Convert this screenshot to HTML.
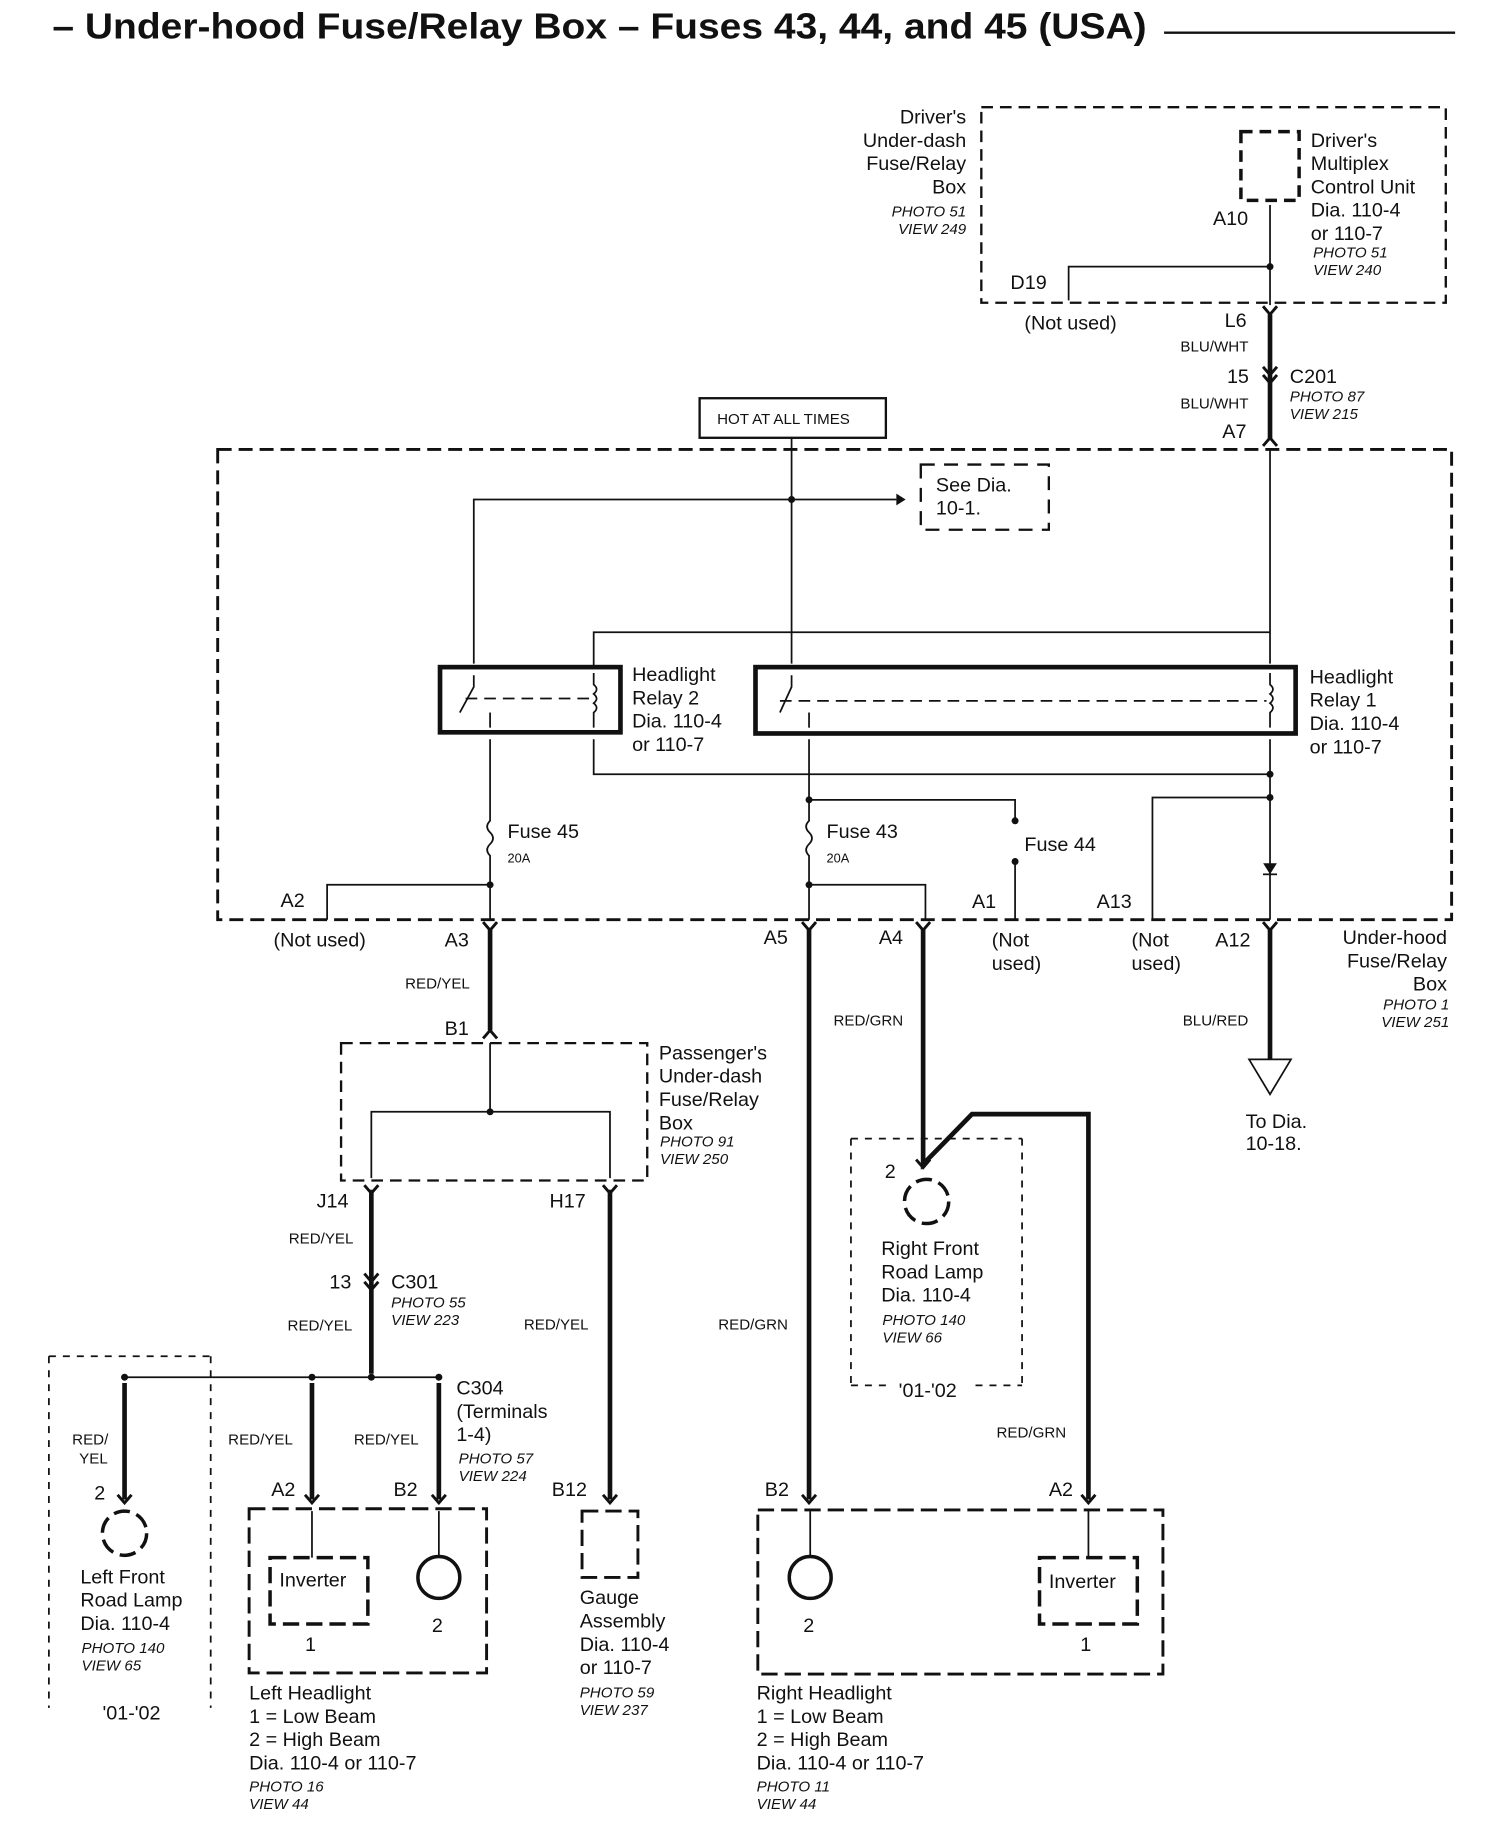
<!DOCTYPE html>
<html><head><meta charset="utf-8"><style>
html,body{margin:0;padding:0;background:#fff;width:1504px;height:1822px;overflow:hidden}
svg{display:block}
text{font-family:"Liberation Sans",sans-serif;fill:#111}
.l{font-size:17px}
.s{font-size:13px;font-style:italic}
.w{font-size:13px}
</style></head><body>
<svg width="1504" height="1822" viewBox="0 0 1292 1565" xmlns="http://www.w3.org/2000/svg">
<g stroke="#111" fill="none">
<line x1="1000" y1="28" x2="1250" y2="28" stroke-width="2"/>
<rect x="843" y="92" width="399" height="168" stroke-width="2" stroke-dasharray="10,6"/>
<rect x="1066" y="113" width="50" height="59" stroke-width="3" stroke-dasharray="10,6"/>
<line x1="1091" y1="176" x2="1091" y2="262" stroke-width="1.5"/>
<polyline points="1091,229 918,229 918,258" stroke-width="1.5"/>
<line x1="1091" y1="270" x2="1091" y2="378" stroke-width="4"/>
<rect x="601" y="342" width="160" height="34" stroke-width="2"/>
<line x1="680" y1="376" x2="680" y2="570" stroke-width="1.5"/>
<rect x="187" y="386" width="1060" height="404" stroke-width="2.5" stroke-dasharray="12,6"/>
<polyline points="407,570 407,429 770,429" stroke-width="1.5"/>
<rect x="791" y="399" width="110" height="56" stroke-width="2" stroke-dasharray="12,8"/>
<line x1="1091" y1="386" x2="1091" y2="570" stroke-width="1.5"/>
<polyline points="510,573 510,543 1091,543" stroke-width="1.5"/>
<rect x="378" y="573" width="155" height="56" stroke-width="4"/>
<rect x="649" y="573" width="464" height="57" stroke-width="4"/>
<line x1="400" y1="600" x2="508" y2="600" stroke-width="1.5" stroke-dasharray="10,6"/>
<line x1="670" y1="602" x2="1088" y2="602" stroke-width="1.5" stroke-dasharray="10,6"/>
<polyline points="407,580 407,590 395,612" stroke-width="1.5"/>
<polyline points="680,580 680,590 670,612" stroke-width="1.5"/>
<path d="M510,578 L510,588 q5,4 0,8 q5,4 0,8 q5,4 0,8 L510,625" stroke-width="1.5"/>
<path d="M1091,578 L1091,588 q5,4 0,8 q5,4 0,8 q5,4 0,8 L1091,625" stroke-width="1.5"/>
<line x1="421" y1="612" x2="421" y2="625" stroke-width="1.5"/>
<line x1="695" y1="612" x2="695" y2="625" stroke-width="1.5"/>
<polyline points="510,635 510,665 1091,665" stroke-width="1.5"/>
<line x1="1091" y1="635" x2="1091" y2="790" stroke-width="1.5"/>
<path d="M421,635 L421,705 q-5,5 0,10 q5,5 0,10 q-5,5 0,10 L421,790" stroke-width="1.5"/>
<path d="M695,635 L695,705 q-5,5 0,10 q5,5 0,10 q-5,5 0,10 L695,790" stroke-width="1.5"/>
<polyline points="695,687 872,687 872,705" stroke-width="1.5"/>
<line x1="872" y1="740" x2="872" y2="790" stroke-width="1.5"/>
<polyline points="1091,685 990,685 990,790" stroke-width="1.5"/>
<polyline points="421,760 281,760 281,790" stroke-width="1.5"/>
<polyline points="695,760 795,760 795,790" stroke-width="1.5"/>
<polygon points="1086,742 1096,742 1091,750" fill="#111"/>
<line x1="1085" y1="751" x2="1097" y2="751" stroke-width="1.5"/>
<line x1="421" y1="798" x2="421" y2="885" stroke-width="4"/>
<line x1="695" y1="798" x2="695" y2="1288" stroke-width="4"/>
<polyline points="793,798 793,1000 835,957 935,957 935,1288" stroke-width="4"/>
<line x1="1091" y1="798" x2="1091" y2="910" stroke-width="4"/>
<polygon points="1073,910 1109,910 1091,940" stroke-width="1.5"/>
<!-- connector chevrons -->
<g stroke-width="2.5">
<path d="M415,792 L421,799 L427,792"/><path d="M689,792 L695,799 L701,792"/>
<path d="M787,792 L793,799 L799,792"/><path d="M1085,792 L1091,799 L1097,792"/>
<path d="M1085,263 L1091,270 L1097,263"/>
<path d="M1085,315 L1091,322 L1097,315"/><path d="M1085,322 L1091,329 L1097,322"/>
<path d="M1085,383 L1091,376 L1097,383"/>
<path d="M415,892 L421,885 L427,892"/>
<path d="M313,1018 L319,1025 L325,1018"/><path d="M518,1018 L524,1025 L530,1018"/>
<path d="M313,1094 L319,1101 L325,1094"/><path d="M313,1101 L319,1108 L325,1101"/>
<path d="M101,1284 L107,1291 L113,1284"/><path d="M262,1284 L268,1291 L274,1284"/>
<path d="M371,1284 L377,1291 L383,1284"/><path d="M518,1284 L524,1291 L530,1284"/>
<path d="M689,1284 L695,1291 L701,1284"/><path d="M929,1284 L935,1291 L941,1284"/>
<path d="M787,996 L793,1003 L799,996"/>
</g>
<rect x="293" y="896" width="263" height="118" stroke-width="2" stroke-dasharray="10,6"/>
<line x1="421" y1="896" x2="421" y2="955" stroke-width="1.5"/>
<polyline points="319,1012 319,955 524,955 524,1012" stroke-width="1.5"/>
<line x1="319" y1="1022" x2="319" y2="1180" stroke-width="4"/>
<line x1="524" y1="1022" x2="524" y2="1288" stroke-width="4"/>
<line x1="107" y1="1183" x2="377" y2="1183" stroke-width="1.5"/>
<line x1="107" y1="1188" x2="107" y2="1288" stroke-width="4"/>
<line x1="268" y1="1188" x2="268" y2="1288" stroke-width="4"/>
<line x1="377" y1="1188" x2="377" y2="1288" stroke-width="4"/>
<polyline points="42,1165 181,1165" stroke-width="1.5" stroke-dasharray="6,6"/>
<line x1="42" y1="1165" x2="42" y2="1467" stroke-width="1.5" stroke-dasharray="6,6"/>
<line x1="181" y1="1165" x2="181" y2="1467" stroke-width="1.5" stroke-dasharray="6,6"/>
<circle cx="107" cy="1317" r="19" stroke-width="3" stroke-dasharray="14,6"/>
<rect x="214" y="1296" width="204" height="141" stroke-width="2.5" stroke-dasharray="14,6"/>
<rect x="232" y="1338" width="84" height="57" stroke-width="3" stroke-dasharray="14,6"/>
<line x1="268" y1="1298" x2="268" y2="1338" stroke-width="1.5"/>
<line x1="377" y1="1298" x2="377" y2="1337" stroke-width="1.5"/>
<circle cx="377" cy="1355" r="18" stroke-width="3"/>
<rect x="500" y="1298" width="48" height="57" stroke-width="2.5" stroke-dasharray="14,6"/>
<rect x="651" y="1297" width="348" height="141" stroke-width="2.5" stroke-dasharray="14,6"/>
<rect x="893" y="1338" width="84" height="57" stroke-width="3" stroke-dasharray="14,6"/>
<line x1="935" y1="1298" x2="935" y2="1338" stroke-width="1.5"/>
<line x1="696" y1="1298" x2="696" y2="1337" stroke-width="1.5"/>
<circle cx="696" cy="1355" r="18" stroke-width="3"/>
<line x1="731" y1="978" x2="731" y2="1190" stroke-width="1.5" stroke-dasharray="6,6"/>
<line x1="878" y1="978" x2="878" y2="1190" stroke-width="1.5" stroke-dasharray="6,6"/>
<line x1="731" y1="978" x2="878" y2="978" stroke-width="1.5" stroke-dasharray="6,6"/>
<line x1="731" y1="1190" x2="765" y2="1190" stroke-width="1.5" stroke-dasharray="6,6"/>
<line x1="838" y1="1190" x2="878" y2="1190" stroke-width="1.5" stroke-dasharray="6,6"/>
<circle cx="796" cy="1032" r="19" stroke-width="3" stroke-dasharray="14,6"/>
</g>
<g fill="#111">
<circle cx="680" cy="429" r="3"/><circle cx="1091" cy="229" r="3"/>
<circle cx="1091" cy="665" r="3"/><circle cx="695" cy="687" r="3"/><circle cx="1091" cy="685" r="3"/>
<circle cx="421" cy="760" r="3"/><circle cx="695" cy="760" r="3"/>
<circle cx="872" cy="705" r="3"/><circle cx="872" cy="740" r="3"/>
<circle cx="421" cy="955" r="3"/><circle cx="107" cy="1183" r="3"/><circle cx="268" cy="1183" r="3"/><circle cx="319" cy="1183" r="3"/><circle cx="377" cy="1183" r="3"/>
<polygon points="770,424 778,429 770,434"/>
</g>
<text x="45" y="33" font-size="31" font-weight="bold" textLength="940" lengthAdjust="spacingAndGlyphs">– Under-hood Fuse/Relay Box – Fuses 43, 44, and 45 (USA)</text>
<g class="l">
<text x="830" y="106" text-anchor="end">Driver's</text>
<text x="830" y="126" text-anchor="end">Under-dash</text>
<text x="830" y="146" text-anchor="end">Fuse/Relay</text>
<text x="830" y="166" text-anchor="end">Box</text>
<text x="1126" y="126">Driver's</text><text x="1126" y="146">Multiplex</text><text x="1126" y="166">Control Unit</text>
<text x="1126" y="186">Dia.  110-4</text><text x="1126" y="206">or 110-7</text>
<text x="1042" y="193">A10</text><text x="868" y="248">D19</text>
<text x="880" y="283">(Not used)</text><text x="1052" y="281">L6</text>
<text x="1054" y="329">15</text><text x="1108" y="329">C201</text><text x="1050" y="376">A7</text>
<text x="543" y="585">Headlight</text><text x="543" y="605">Relay 2</text><text x="543" y="625">Dia.  110-4</text><text x="543" y="645">or 110-7</text>
<text x="1125" y="587">Headlight</text><text x="1125" y="607">Relay 1</text><text x="1125" y="627">Dia.  110-4</text><text x="1125" y="647">or 110-7</text>
<text x="804" y="422">See  Dia.</text><text x="804" y="442">10-1.</text>
<text x="436" y="720">Fuse  45</text><text x="710" y="720">Fuse  43</text><text x="880" y="731">Fuse  44</text>
<text x="241" y="779">A2</text><text x="835" y="780">A1</text><text x="942" y="780">A13</text>
<text x="235" y="813">(Not used)</text><text x="382" y="813">A3</text><text x="656" y="811">A5</text><text x="755" y="811">A4</text>
<text x="852" y="813">(Not</text><text x="852" y="833">used)</text><text x="972" y="813">(Not</text><text x="972" y="833">used)</text>
<text x="1044" y="813">A12</text>
<text x="1243" y="811" text-anchor="end">Under-hood</text><text x="1243" y="831" text-anchor="end">Fuse/Relay</text><text x="1243" y="851" text-anchor="end">Box</text>
<text x="382" y="889">B1</text>
<text x="566" y="910">Passenger's</text><text x="566" y="930">Under-dash</text><text x="566" y="950">Fuse/Relay</text><text x="566" y="970">Box</text>
<text x="1070" y="969">To  Dia.</text><text x="1070" y="988">10-18.</text>
<text x="272" y="1037">J14</text><text x="472" y="1037">H17</text>
<text x="760" y="1012">2</text>
<text x="757" y="1078">Right Front</text><text x="757" y="1098">Road Lamp</text><text x="757" y="1118">Dia.  110-4</text>
<text x="772" y="1200">'01-'02</text>
<text x="283" y="1107">13</text><text x="336" y="1107">C301</text>
<text x="392" y="1198">C304</text><text x="392" y="1218">(Terminals</text><text x="392" y="1238">1-4)</text>
<text x="81" y="1288">2</text><text x="233" y="1285">A2</text><text x="338" y="1285">B2</text><text x="474" y="1285">B12</text>
<text x="657" y="1285">B2</text><text x="901" y="1285">A2</text>
<text x="240" y="1363">Inverter</text><text x="901" y="1364">Inverter</text>
<text x="371" y="1402">2</text><text x="262" y="1418">1</text><text x="690" y="1402">2</text><text x="928" y="1418">1</text>
<text x="69" y="1360">Left Front</text><text x="69" y="1380">Road Lamp</text><text x="69" y="1400">Dia.  110-4</text>
<text x="88" y="1477">'01-'02</text>
<text x="498" y="1378">Gauge</text><text x="498" y="1398">Assembly</text><text x="498" y="1418">Dia.  110-4</text><text x="498" y="1438">or 110-7</text>
<text x="214" y="1460">Left Headlight</text><text x="214" y="1480">1 = Low Beam</text><text x="214" y="1500">2 = High Beam</text><text x="214" y="1520">Dia.  110-4 or 110-7</text>
<text x="650" y="1460">Right Headlight</text><text x="650" y="1480">1 = Low Beam</text><text x="650" y="1500">2 = High Beam</text><text x="650" y="1520">Dia.  110-4 or 110-7</text>
</g>
<g class="w">
<text x="616" y="364">HOT AT ALL TIMES</text>
<text x="1014" y="302">BLU/WHT</text><text x="1014" y="351">BLU/WHT</text>
<text x="436" y="741" font-size="11">20A</text><text x="710" y="741" font-size="11">20A</text>
<text x="348" y="849">RED/YEL</text><text x="716" y="881">RED/GRN</text><text x="1016" y="881">BLU/RED</text>
<text x="248" y="1068">RED/YEL</text><text x="247" y="1143">RED/YEL</text><text x="450" y="1142">RED/YEL</text><text x="617" y="1142">RED/GRN</text>
<text x="62" y="1241">RED/</text><text x="68" y="1257">YEL</text><text x="196" y="1241">RED/YEL</text><text x="304" y="1241">RED/YEL</text>
<text x="856" y="1235">RED/GRN</text>
</g>
<g class="s">
<text x="830" y="186" text-anchor="end">PHOTO 51</text><text x="830" y="201" text-anchor="end">VIEW 249</text>
<text x="1128" y="221">PHOTO 51</text><text x="1128" y="236">VIEW 240</text>
<text x="1108" y="345">PHOTO 87</text><text x="1108" y="360">VIEW 215</text>
<text x="1245" y="867" text-anchor="end">PHOTO 1</text><text x="1245" y="882" text-anchor="end">VIEW 251</text>
<text x="567" y="985">PHOTO 91</text><text x="567" y="1000">VIEW 250</text>
<text x="758" y="1138">PHOTO 140</text><text x="758" y="1153">VIEW 66</text>
<text x="336" y="1123">PHOTO 55</text><text x="336" y="1138">VIEW 223</text>
<text x="394" y="1257">PHOTO 57</text><text x="394" y="1272">VIEW 224</text>
<text x="70" y="1420">PHOTO 140</text><text x="70" y="1435">VIEW 65</text>
<text x="498" y="1458">PHOTO 59</text><text x="498" y="1473">VIEW 237</text>
<text x="214" y="1539">PHOTO 16</text><text x="214" y="1554">VIEW 44</text>
<text x="650" y="1539">PHOTO 11</text><text x="650" y="1554">VIEW 44</text>
</g>
</svg>
</body></html>
